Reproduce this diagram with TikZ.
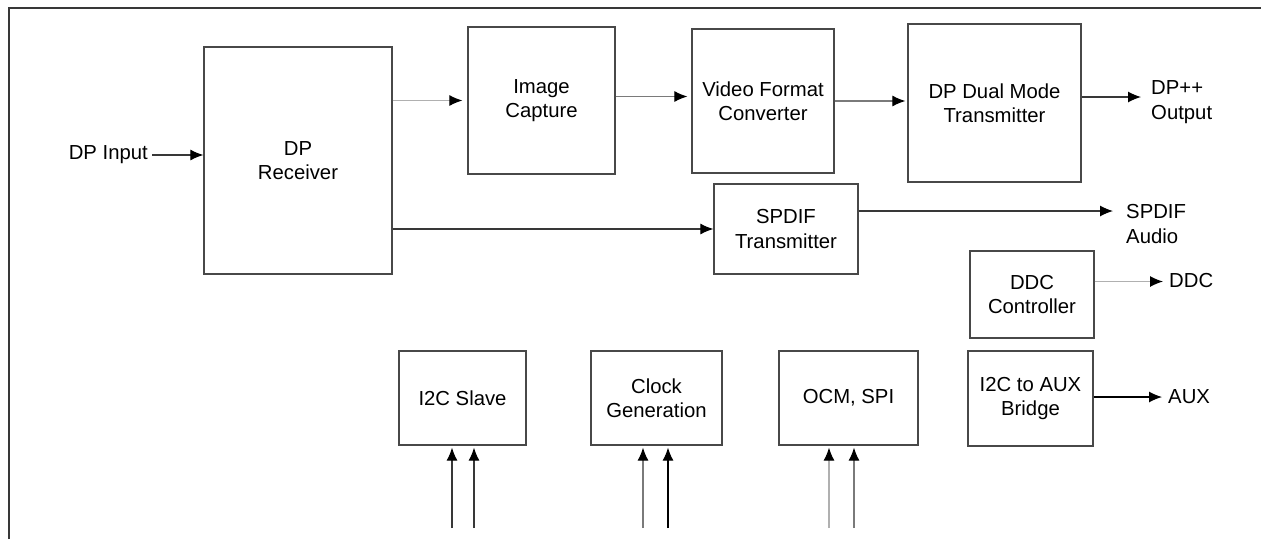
\documentclass[tikz,border=0pt]{standalone}
\usepackage{fontspec}
\setmainfont{Liberation Sans}
\usetikzlibrary{arrows.meta}

\definecolor{boxline}{HTML}{484848}
\definecolor{wiredark}{HTML}{383838}
\definecolor{wiremid}{HTML}{7A7A7A}
\definecolor{wirelight}{HTML}{B0B0B0}

\tikzset{
    blk/.style={draw=boxline, line width=1.3pt, align=center, inner sep=2pt,
                font=\fontsize{20.3}{24.5}\selectfont},
    lbl/.style={inner sep=0pt, align=left, font=\fontsize{20.3}{24.5}\selectfont},
    arr/.style={line width=1.1pt, -{Latex[length=13pt,width=11pt,black]}},
}

\begin{document}
\begin{tikzpicture}[x=1pt, y=-1pt]
            \useasboundingbox (0, 0) rectangle (1261, 539);
            \draw[line width=2.2pt, color=wiredark] (9, 539) -- (9, 8) -- (1261, 8);

            % main video path
            \node[blk, minimum width=188, minimum height=227] (rx)   at (298, 160.5)  {DP\\Receiver};
            \node[blk, minimum width=147, minimum height=147] (ic)   at (541.5, 100.5) {Image\\Capture};
            \node[blk, minimum width=142, minimum height=144] (vfc)  at (763, 101)    {Video Format\\Converter};
            \node[blk, minimum width=173, minimum height=158] (dpdm) at (994.5, 103)  {DP Dual Mode\\Transmitter};
            \node[blk, minimum width=144, minimum height=90]  (spdif) at (786, 229)   {SPDIF\\Transmitter};

            % side blocks
            \node[blk, minimum width=124, minimum height=87] (ddc) at (1032, 294.5)  {DDC\\Controller};
            \node[blk, minimum width=125, minimum height=95] (aux) at (1030.5, 398.5) {I2C to AUX\\Bridge};
            \node[blk, minimum width=127, minimum height=94] (i2c) at (462.5, 398)   {I2C Slave};
            \node[blk, minimum width=131, minimum height=94] (clk) at (656.5, 398)   {Clock\\Generation};
            \node[blk, minimum width=139, minimum height=94] (ocm) at (848.5, 398)   {OCM, SPI};

            % pins
            \node[lbl, anchor=east] (dpin)    at (148, 155)  {DP Input};
            \node[lbl, anchor=west] (dpout)   at (1151, 102) {DP++\\Output};
            \node[lbl, anchor=west] (audio)   at (1126, 224) {SPDIF\\Audio};
            \node[lbl, anchor=west] (ddcout)  at (1169, 281) {DDC};
            \node[lbl, anchor=west] (auxout)  at (1168, 397) {AUX};

            \draw[arr, color=wiredark, shorten <=4pt] (dpin.east) -- (dpin.east -| rx.west);
            \draw[arr, color=wirelight, shorten >=5pt] (rx.east |- ic.west) -- (ic.west);
            \draw[arr, color=wiremid, shorten >=4pt] ([yshift=4pt]ic.east) -- ([yshift=4pt]ic.east -| vfc.west);
            \draw[arr, color=wiremid, shorten >=2pt] (vfc.east) -- (vfc.east -| dpdm.west);
            \draw[arr, color=wiredark] (spdif.west -| rx.east) -- (spdif.west);

            \draw[arr, color=wiredark, shorten >=10pt] ([yshift=6pt]dpdm.east) -- ([yshift=6pt]dpdm.east -| dpout.west);
            \draw[arr, color=wiredark, shorten >=13pt] ([yshift=18pt]spdif.east) -- ([yshift=18pt]spdif.east -| audio.west);
            \draw[arr, color=wirelight, shorten >=6pt] ([yshift=13pt]ddc.east) -- ([yshift=13pt]ddc.east -| ddcout.west);
            \draw[arr, color=black, shorten >=6pt] (aux.east |- auxout.west) -- (auxout.west);

            % control inputs from below
            \foreach \px/\blkname/\wire in {452/i2c/wiredark, 474/i2c/wiredark,
                                            643/clk/wiremid, 668/clk/black,
                                            829/ocm/wirelight, 854/ocm/wiremid} {
                \coordinate (pin\px) at (\px, 528);
                \draw[arr, color=\wire, shorten >=2pt] (pin\px) -- (pin\px |- \blkname.south);
            }
\end{tikzpicture}
\end{document}
